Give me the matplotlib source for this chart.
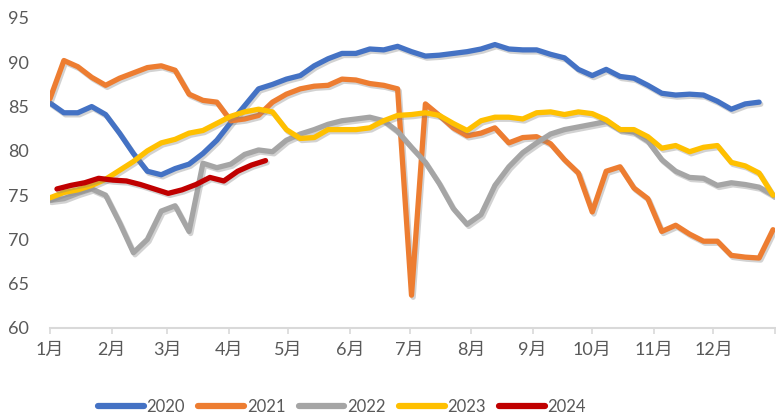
import numpy as np
import matplotlib
matplotlib.use("Agg")
import matplotlib.pyplot as plt
import matplotlib.patheffects as pe

plt.rcParams['font.family'] = ['Lato', 'Noto Sans CJK SC', 'DejaVu Sans']

# weekly values, one point per week starting at 1 Jan
v2020 = [85.4, 84.3, 84.3, 85.0, 84.1, 82.0, 79.7, 77.7, 77.3, 78.0, 78.5, 79.7, 81.2,
         83.2, 85.1, 87.0, 87.5, 88.1, 88.5, 89.6, 90.4, 91.0, 91.0, 91.5, 91.4, 91.8,
         91.2, 90.7, 90.8, 91.0, 91.2, 91.5, 92.0, 91.5, 91.4, 91.4, 90.9, 90.5, 89.2,
         88.5, 89.2, 88.4, 88.2, 87.4, 86.5, 86.3, 86.4, 86.3, 85.6, 84.7, 85.3, 85.5]
v2021 = [85.9, 90.2, 89.5, 88.3, 87.4, 88.2, 88.8, 89.4, 89.6, 89.1, 86.4, 85.7, 85.5,
         83.4, 83.6, 84.0, 85.5, 86.4, 87.0, 87.3, 87.4, 88.1, 88.0, 87.6, 87.4, 87.0,
         63.7, 85.3, 84.0, 82.6, 81.7, 82.0, 82.6, 80.9, 81.5, 81.6, 80.8, 79.0, 77.5,
         73.1, 77.7, 78.2, 75.8, 74.6, 70.9, 71.6, 70.6, 69.8, 69.8, 68.2, 68.0, 67.9, 71.1]
v2022 = [74.4, 74.6, 75.2, 75.7, 75.0, 71.9, 68.5, 70.0, 73.2, 73.8, 70.9, 78.6, 78.1,
         78.5, 79.6, 80.1, 79.9, 81.2, 81.9, 82.4, 83.0, 83.4, 83.6, 83.8, 83.4, 82.2,
         80.4, 78.7, 76.3, 73.5, 71.7, 72.8, 76.1, 78.2, 79.8, 80.9, 81.9, 82.4, 82.7,
         83.0, 83.3, 82.4, 82.1, 81.1, 79.0, 77.7, 77.0, 76.9, 76.1, 76.4, 76.2, 75.9, 75.0]
v2023 = [74.7, 75.3, 75.6, 76.1, 76.8, 77.8, 78.8, 80.0, 80.9, 81.3, 82.0, 82.3, 83.1,
         83.9, 84.4, 84.7, 84.4, 82.4, 81.4, 81.5, 82.4, 82.4, 82.4, 82.6, 83.4, 84.0,
         84.1, 84.3, 84.0, 83.1, 82.3, 83.4, 83.8, 83.8, 83.6, 84.3, 84.4, 84.1, 84.4,
         84.2, 83.5, 82.4, 82.4, 81.6, 80.3, 80.6, 79.9, 80.4, 80.6, 78.7, 78.3, 77.5, 75.0]
v2024 = [75.7, 76.1, 76.4, 76.9, 76.7, 76.6, 76.2, 75.7, 75.2, 75.6, 76.2, 77.0, 76.6,
         77.7, 78.4, 78.9]

years = ['2020', '2021', '2022', '2023', '2024']
series = [v2020, v2021, v2022, v2023, v2024]
start_day = [0, 0, 0, 0, 3.5]
colors = ['#4472C4', '#ED7D31', '#A5A5A5', '#FFC000', '#C00000']

month_days = [0, 31, 59, 90, 120, 151, 181, 212, 243, 273, 304, 334, 365]
month_labels = [f'{m}月' for m in range(1, 13)] + ['']

fig = plt.figure(figsize=(7.76, 4.16), dpi=100)
ax = fig.add_axes([50 / 776, 88 / 416, 725 / 776, 310 / 416])

shadow = [pe.SimpleLineShadow(offset=(1.2, -1.5), shadow_color='#808080', alpha=0.35),
          pe.Normal()]

for name, vals, s, c in zip(years, series, start_day, colors):
    x = s + 7 * np.arange(len(vals))
    ax.plot(x, vals, color=c, lw=3.8, label=name, solid_capstyle='round',
            solid_joinstyle='round', path_effects=shadow)

ax.set_xlim(0, 365)
ax.set_ylim(60, 95)
ax.set_yticks(range(60, 96, 5))
ax.set_xticks(month_days)
ax.set_xticklabels(month_labels)

for sp in ['left', 'right', 'top']:
    ax.spines[sp].set_visible(False)
ax.spines['bottom'].set_color('#D9D9D9')
ax.spines['bottom'].set_linewidth(1.5)

ax.tick_params(axis='y', length=0, pad=15, labelsize=13, labelcolor='#595959')
ax.tick_params(axis='x', length=4, width=1.2, color='#D9D9D9', pad=6,
               labelsize=13, labelcolor='#595959')

leg = fig.legend(loc='center', bbox_to_anchor=(342 / 776, 1 - 407 / 416), ncol=5,
                 frameon=False, fontsize=12, handlelength=2.75, handletextpad=0.15,
                 columnspacing=0.8, labelcolor='#595959')
for h in leg.get_lines():
    h.set_linewidth(4.5)
    h.set_path_effects([])

fig.savefig('out.png', dpi=100)
